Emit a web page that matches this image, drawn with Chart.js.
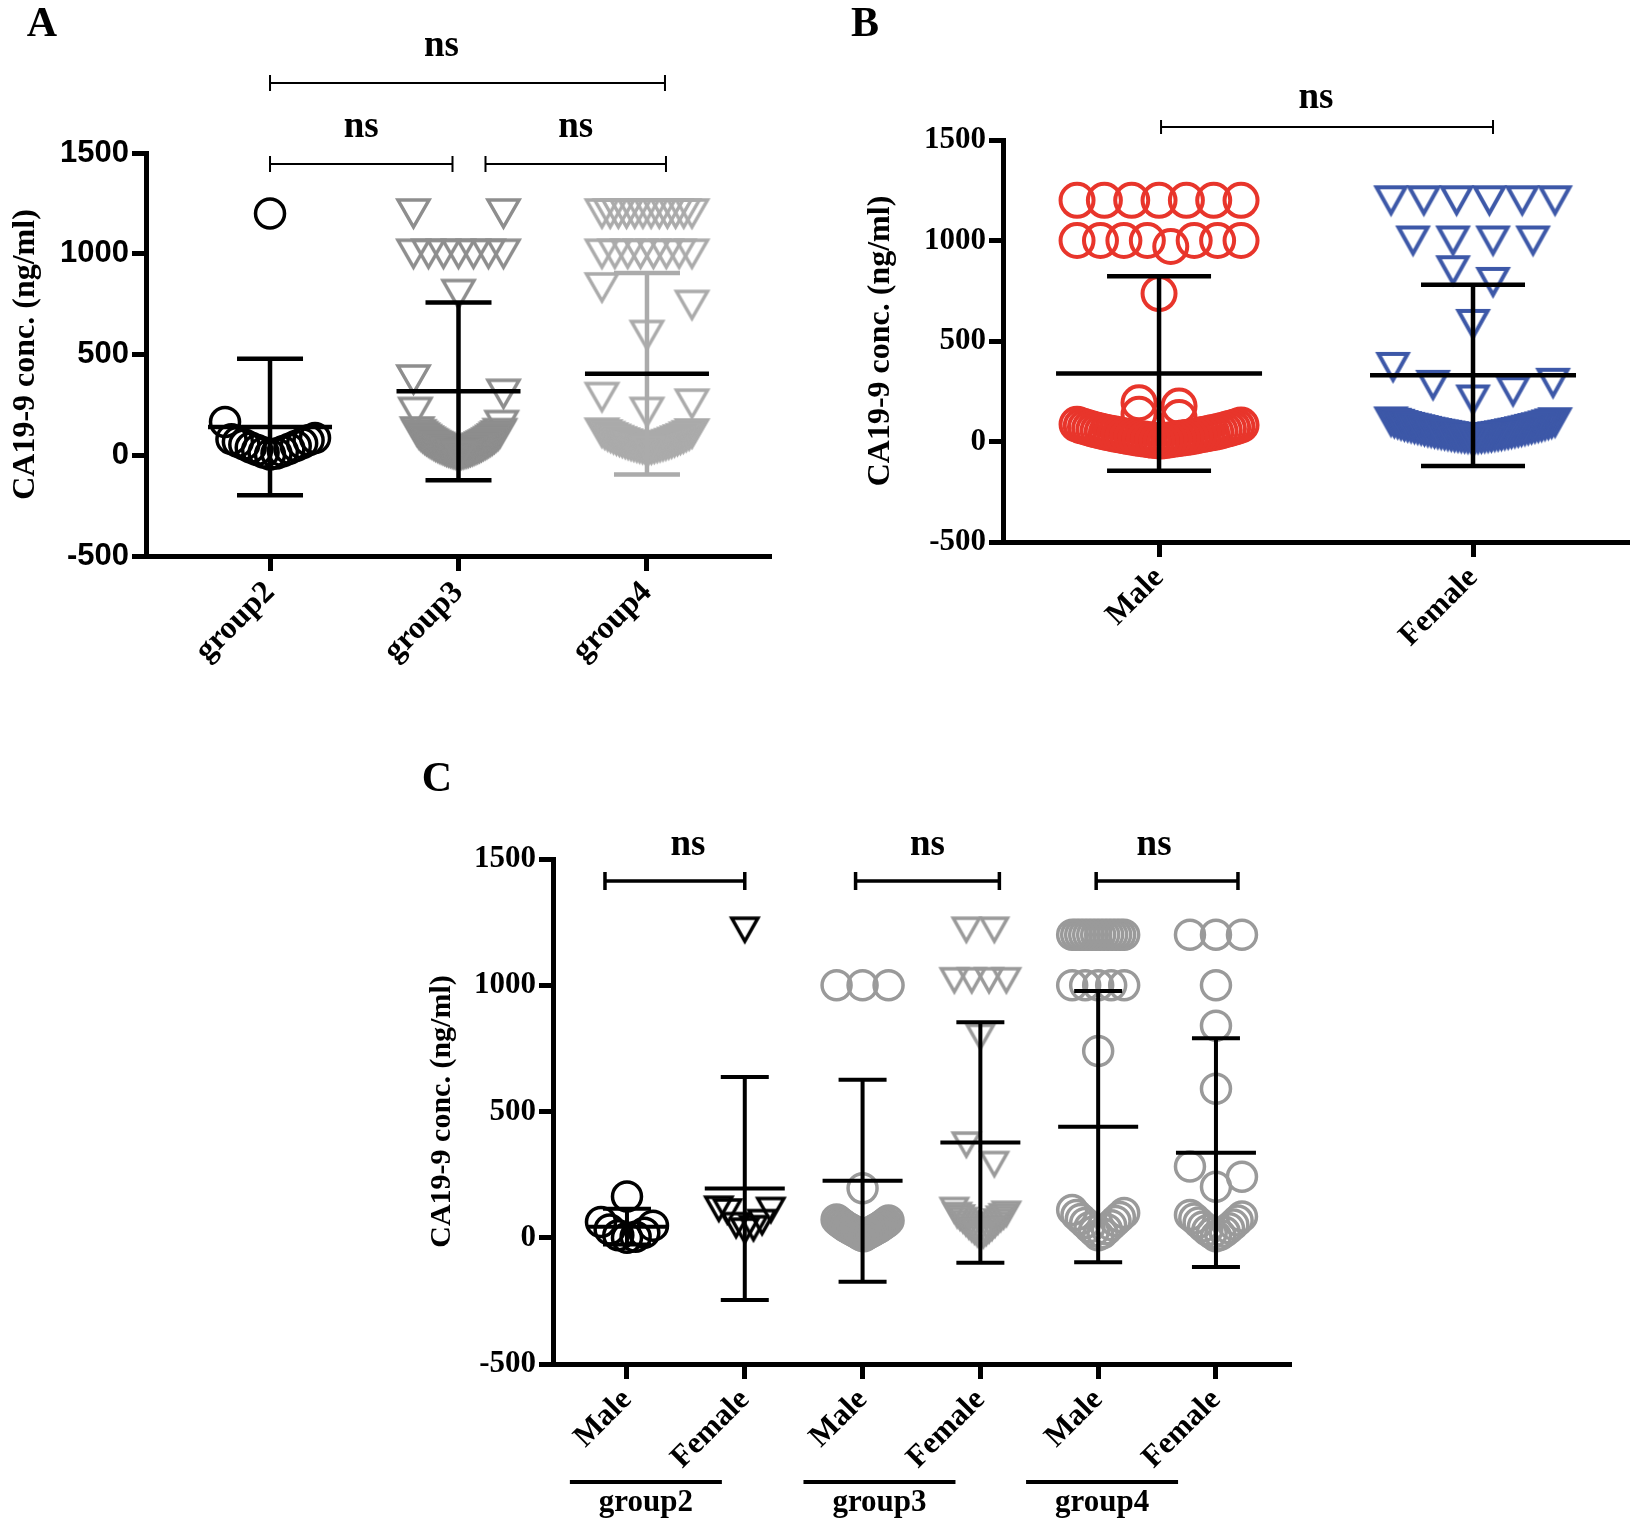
<!DOCTYPE html>
<html>
<head>
<meta charset="utf-8">
<title>CA19-9 conc.</title>
<script src="https://cdn.jsdelivr.net/npm/chart.js@4.4.1/dist/chart.umd.min.js"></script>
<style>
html,body{margin:0;padding:0;background:#fff}
body{position:relative;width:1630px;height:1522px;overflow:hidden}
canvas{position:absolute}
#cA{left:0;top:0}
#cB{left:800px;top:0}
#cC{left:380px;top:720px}
</style>
</head>
<body>
<canvas id="cA" width="800" height="700"></canvas>
<canvas id="cB" width="830" height="700"></canvas>
<canvas id="cC" width="950" height="802"></canvas>
<script>
// ======================= DATA =======================
const yTitle = 'CA19-9 conc. (ng/ml)';
const yTicks = [-500, 0, 500, 1000, 1500];
const sigLabel = 'ns';

// ---- Panel A ----
const catsA = ['group2', 'group3', 'group4'];
const aGroup2 = [1200, 165, 86, 80, 74, 67, 60, 53, 46, 39, 32, 26, 20, 14, 9, 4];
const aGroup3 = [1200, 1200, 1000, 1000, 1000, 1000, 1000, 1000, 1000, 800, 376, 305, 215, 150,
  118, 110, 104, 98, 95, 91, 87, 83, 80, 76, 73, 70, 67, 64, 61, 58, 56, 53, 50, 48, 45, 43,
  41, 38, 36, 34, 32, 30, 28, 26, 24, 22, 20, 19, 17, 15, 14, 12, 11, 10, 8, 7, 6, 5, 3, 2];
const aGroup4 = [1200, 1200, 1200, 1200, 1200, 1200, 1200, 1200, 1200, 1200, 1200, 1200,
  1000, 1000, 1000, 1000, 1000, 1000, 1000, 1000, 833, 746, 597, 289, 256, 215,
  112, 108, 103, 99, 95, 92, 88, 84, 81, 78, 75, 72, 69, 66, 63, 60, 58, 55, 53, 50, 48,
  46, 44, 42, 40, 38, 36, 34, 32, 30, 28, 26];
const aMean = [140, 317, 404];
const aSD = [339, 441, 500];
const compA = [[0, 2], [0, 1], [1, 2]];

// ---- Panel B ----
const catsB = ['Male', 'Female'];
const bMale = [1200, 1200, 1200, 1200, 1200, 1200, 1200,
  1000, 1000, 1000, 1000, 1000, 1000, 1000, 970, 736, 193, 176, 135, 119,
  86, 82, 78, 75, 72, 69, 66, 63, 60, 57, 55, 52, 50, 47, 45, 43, 41, 39, 37, 35,
  33, 31, 29, 27, 25, 23, 22, 20, 18, 17, 15, 14, 12, 11, 9, 8, 6, 5, 4, 2];
const bFemale = [1200, 1200, 1200, 1200, 1200, 1200, 1000, 1000, 1000, 1000,
  852, 794, 585, 371, 292, 282, 250, 209,
  100, 96, 93, 90, 88, 85, 82, 80, 77, 75, 73, 71, 69, 67, 65, 63, 61, 59, 57, 55, 53,
  51, 49, 47, 46, 44, 42, 41, 39, 37, 36, 34, 33, 31, 30, 28, 27, 26, 24, 23, 22, 21,
  20, 19, 18, 17, 16, 15, 14, 13];
const bMean = [338, 329];
const bSD = [484, 451];
const compB = [[0, 1]];

// ---- Panel C ----
const catsC = ['Male', 'Female', 'Male', 'Female', 'Male', 'Female'];
const groupsC = ['group2', 'group3', 'group4'];
const cG2Male = [163, 62, 48, 33, 20, 10, 4, 0];
const cG2Female = [1220, 115, 110, 104, 62, 50, 38, 28];
const cG3Male = [1000, 1000, 1000, 196, 72, 68, 64, 60, 57, 54, 51, 48, 45, 42, 40, 37, 35,
  32, 30, 27, 25, 22, 20, 17, 15, 12, 9, 6];
const cG3Female = [1220, 1220, 1020, 1020, 1020, 1020, 796, 369, 292, 110, 95, 90, 85, 80, 75,
  70, 64, 58, 52, 46, 40, 35, 30, 25, 20, 15, 10, 5];
const cG4Male = [1200, 1200, 1200, 1200, 1200, 1200, 1200, 1200, 1200, 1200, 1200, 1200, 1200, 1200,
  1000, 1000, 1000, 1000, 1000, 740, 110, 98, 90, 82, 74, 66, 58, 50, 42, 34, 26, 18, 10];
const cG4Female = [1200, 1200, 1200, 1000, 840, 590, 282, 242, 202, 90, 84, 76, 68, 60, 52,
  45, 38, 30, 24, 18, 12, 6];
const cMean = [44, 195, 226, 377, 440, 337];
const cSD = [71, 442, 400, 476, 537, 453];
const compC = [[0, 1], [2, 3], [4, 5]];

// ======================= STYLE / LAYOUT =======================
const SERIF = '"Liberation Serif", "Times New Roman", serif';
const SANS = '"Liberation Sans", Arial, sans-serif';
const RED = '#e8352b', BLUE = '#3d58a8', BLACK = '#000000';
const GRAY_A3 = '#8e8e8e', GRAY_A4 = '#ababab', GRAY_C = '#9a9a9a';

// horizontal scatter of points sharing a value band (column scatter layout)
function spread(values, gap, halfW, sMax) {
  const order = values.map((v, i) => i).sort((a, b) => values[a] - values[b]);
  const rows = [];
  let cur = [];
  order.forEach(k => {
    if (cur.length && values[k] - values[cur[cur.length - 1]] > gap) { rows.push(cur); cur = []; }
    cur.push(k);
  });
  if (cur.length) rows.push(cur);
  const off = new Array(values.length).fill(0);
  rows.forEach(r => {
    const n = r.length;
    if (n < 2) return;
    const s = Math.min(sMax, 2 * halfW / (n - 1));
    const slots = [];
    for (let i = 0; i < n; i++) slots.push((i - (n - 1) / 2) * s);
    slots.sort((a, b) => Math.abs(a) - Math.abs(b) || b - a);
    r.forEach((k, j) => { off[k] = slots[j]; });
  });
  return off;
}

function triangleImage(w, h, color, lw) {
  const pad = Math.ceil(lw * 1.5) + 2;
  const c = document.createElement('canvas');
  c.width = Math.ceil(w + 2 * pad);
  c.height = Math.ceil(h + 2 * pad);
  const g = c.getContext('2d');
  const cx = c.width / 2, cy = c.height / 2;
  g.strokeStyle = color;
  g.lineWidth = lw;
  g.lineJoin = 'miter';
  g.beginPath();
  g.moveTo(cx - w / 2, cy - h / 2);
  g.lineTo(cx + w / 2, cy - h / 2);
  g.lineTo(cx, cy + h / 2);
  g.closePath();
  g.stroke();
  return c;
}

function annotationPlugin(P) {
  return {
    id: 'annot' + P.letter,
    afterDatasetsDraw(chart) {
      const ctx = chart.ctx, xs = chart.scales.x, ys = chart.scales.y;
      ctx.save();
      ctx.lineCap = 'butt';
      P.means.forEach((m, i) => {
        const cx = xs.getPixelForValue(i);
        const top = ys.getPixelForValue(m + P.sds[i]);
        const bot = ys.getPixelForValue(m - P.sds[i]);
        const mid = ys.getPixelForValue(m);
        ctx.strokeStyle = P.barColors ? P.barColors[i] : BLACK;
        ctx.lineWidth = P.barLW;
        ctx.beginPath();
        ctx.moveTo(cx, top); ctx.lineTo(cx, bot);
        ctx.moveTo(cx - P.capHalf, top); ctx.lineTo(cx + P.capHalf, top);
        ctx.moveTo(cx - P.capHalf, bot); ctx.lineTo(cx + P.capHalf, bot);
        ctx.stroke();
        ctx.strokeStyle = BLACK;
        ctx.beginPath();
        ctx.moveTo(cx - P.meanHalf, mid); ctx.lineTo(cx + P.meanHalf, mid);
        ctx.stroke();
      });
      ctx.restore();
    },
    afterDraw(chart) {
      const ctx = chart.ctx, xs = chart.scales.x, ys = chart.scales.y;
      ctx.save();
      ctx.fillStyle = BLACK;
      ctx.strokeStyle = BLACK;
      // significance brackets
      P.comps.forEach((c, k) => {
        const B = P.bracketLayout[k];
        const yb = ys.getPixelForValue(B.level);
        const x1 = xs.getPixelForValue(c[0]) + B.dl;
        const x2 = xs.getPixelForValue(c[1]) + B.dr;
        ctx.lineWidth = P.bracketLW;
        ctx.beginPath();
        ctx.moveTo(x1, yb); ctx.lineTo(x2, yb);
        ctx.moveTo(x1, yb - P.bracketEnd); ctx.lineTo(x1, yb + P.bracketEnd);
        ctx.moveTo(x2, yb - P.bracketEnd); ctx.lineTo(x2, yb + P.bracketEnd);
        ctx.stroke();
        ctx.font = 'bold ' + P.nsSize + 'px ' + SERIF;
        ctx.textAlign = 'center';
        ctx.textBaseline = 'middle';
        ctx.fillText(sigLabel, (x1 + x2) / 2 + (B.labelDx || 0), yb - P.nsGap);
      });
      // panel letter
      ctx.font = 'bold 42px ' + SERIF;
      ctx.textAlign = 'center';
      ctx.textBaseline = 'middle';
      ctx.fillText(P.letter, P.letterPos[0], P.letterPos[1]);
      // group labels under paired categories
      if (P.groups) {
        P.groups.forEach((gname, g) => {
          const mid = (xs.getPixelForValue(2 * g) + xs.getPixelForValue(2 * g + 1)) / 2 + P.groupDx[g];
          ctx.lineWidth = 4;
          ctx.beginPath();
          ctx.moveTo(mid - P.groupHalf, P.groupLineY);
          ctx.lineTo(mid + P.groupHalf, P.groupLineY);
          ctx.stroke();
          ctx.font = 'bold 31px ' + SERIF;
          ctx.textAlign = 'center';
          ctx.textBaseline = 'middle';
          ctx.fillText(gname, mid, P.groupTextY);
        });
      }
      ctx.restore();
    }
  };
}

function makePanel(canvasId, P) {
  const pxPerUnit = (P.area.right - P.area.left) / (P.xMax - P.xMin);
  const datasets = P.series.map(s => {
    const off = spread(s.values, s.gap || P.gap, P.halfW, P.sMax);
    const tri = s.shape === 'triangle';
    return {
      data: s.values.map((v, k) => ({ x: s.cat + off[k] / pxPerUnit, y: v })),
      pointStyle: tri ? triangleImage(P.triW, P.triH, s.color, P.markLW) : 'circle',
      pointRadius: tri ? 10 : P.circleR,
      pointHoverRadius: tri ? 10 : P.circleR,
      pointBorderWidth: P.markLW,
      pointHoverBorderWidth: P.markLW,
      pointBorderColor: s.color,
      pointBackgroundColor: 'rgba(0,0,0,0)',
      showLine: false
    };
  });
  const tickGrid = (len) => ({
    drawOnChartArea: false, drawTicks: true, tickLength: len,
    tickWidth: P.axisLW, tickColor: BLACK
  });
  return new Chart(document.getElementById(canvasId), {
    type: 'scatter',
    data: { datasets },
    options: {
      responsive: false,
      animation: false,
      devicePixelRatio: 1,
      events: [],
      layout: {
        autoPadding: false,
        padding: { left: 0, top: P.area.top, right: P.canvasW - P.area.right, bottom: P.padBottom }
      },
      plugins: { legend: { display: false }, tooltip: { enabled: false } },
      scales: {
        x: {
          type: 'linear', min: P.xMin, max: P.xMax,
          afterBuildTicks: sc => { sc.ticks = P.cats.map((c, i) => ({ value: i })); },
          afterFit: sc => { sc.height = P.canvasH - P.area.bottom - P.padBottom; },
          ticks: {
            autoSkip: false, minRotation: 45, maxRotation: 45, padding: P.xTickPad,
            color: BLACK, font: { family: SERIF, size: P.xFont, weight: 'bold' },
            callback: v => P.cats[Math.round(v)]
          },
          grid: tickGrid(15),
          border: { display: true, color: BLACK, width: P.axisLW }
        },
        y: {
          type: 'linear', min: -500, max: 1500,
          afterBuildTicks: sc => { sc.ticks = yTicks.map(v => ({ value: v })); },
          afterFit: sc => { sc.width = P.area.left; },
          ticks: {
            padding: 3, color: BLACK,
            font: { family: P.yFontFamily, size: P.yFont, weight: 'bold' },
            callback: v => String(v)
          },
          grid: tickGrid(14),
          border: { display: true, color: BLACK, width: P.axisLW },
          title: {
            display: true, text: yTitle, color: BLACK,
            font: { family: SERIF, size: P.titleSize, weight: 'bold', lineHeight: 1.2 },
            padding: { top: P.titlePad, bottom: 0 }
          }
        }
      }
    },
    plugins: [annotationPlugin(P)]
  });
}

// ---- Panel A ----
makePanel('cA', {
  letter: 'A', letterPos: [42, 25],
  canvasW: 800, canvasH: 700, padBottom: 4,
  area: { left: 146, top: 153, right: 771, bottom: 556 },
  xMin: -0.658, xMax: 2.658,
  cats: catsA,
  series: [
    { cat: 0, values: aGroup2, shape: 'circle', color: BLACK },
    { cat: 1, values: aGroup3, shape: 'triangle', color: GRAY_A3 },
    { cat: 2, values: aGroup4, shape: 'triangle', color: GRAY_A4 }
  ],
  gap: 100, halfW: 45, sMax: 100,
  circleR: 14.5, triW: 31, triH: 27, markLW: 3.5,
  axisLW: 5, xFont: 32, xTickPad: 3, yFont: 31, yFontFamily: SANS,
  titleSize: 32, titlePad: 7,
  means: aMean, sds: aSD, barColors: [BLACK, BLACK, GRAY_A4],
  barLW: 4.5, capHalf: 33, meanHalf: 62,
  comps: compA,
  bracketLayout: [
    { level: 1847, dl: 0, dr: 18, labelDx: -26 },
    { level: 1445, dl: 0, dr: -6 },
    { level: 1445, dl: 27, dr: 19 }
  ],
  bracketLW: 2, bracketEnd: 8, nsSize: 37, nsGap: 37
});

// ---- Panel B ----
makePanel('cB', {
  letter: 'B', letterPos: [65, 25],
  canvasW: 830, canvasH: 700, padBottom: 4,
  area: { left: 203, top: 140, right: 830, bottom: 542 },
  xMin: -0.497, xMax: 1.5,
  cats: catsB,
  series: [
    { cat: 0, values: bMale, shape: 'circle', color: RED, gap: 30 },
    { cat: 1, values: bFemale, shape: 'triangle', color: BLUE }
  ],
  gap: 100, halfW: 82, sMax: 40,
  circleR: 16.5, triW: 29, triH: 26, markLW: 4,
  axisLW: 5, xFont: 31, xTickPad: 3, yFont: 31, yFontFamily: SERIF,
  titleSize: 32, titlePad: 62,
  means: bMean, sds: bSD,
  barLW: 4.5, capHalf: 52, meanHalf: 103,
  comps: compB,
  bracketLayout: [{ level: 1565, dl: 2, dr: 20, labelDx: -11 }],
  bracketLW: 2, bracketEnd: 7, nsSize: 37, nsGap: 28
});

// ---- Panel C ----
makePanel('cC', {
  letter: 'C', letterPos: [57, 60],
  canvasW: 950, canvasH: 802, padBottom: 4,
  area: { left: 173, top: 139, right: 911, bottom: 644 },
  xMin: -0.628, xMax: 5.637,
  cats: catsC,
  series: [
    { cat: 0, values: cG2Male, shape: 'circle', color: BLACK },
    { cat: 1, values: cG2Female, shape: 'triangle', color: BLACK },
    { cat: 2, values: cG3Male, shape: 'circle', color: GRAY_C },
    { cat: 3, values: cG3Female, shape: 'triangle', color: GRAY_C },
    { cat: 4, values: cG4Male, shape: 'circle', color: GRAY_C },
    { cat: 5, values: cG4Female, shape: 'circle', color: GRAY_C }
  ],
  gap: 80, halfW: 26, sMax: 28,
  circleR: 14.5, triW: 26, triH: 23, markLW: 3.5,
  axisLW: 5, xFont: 31, xTickPad: 3, yFont: 31, yFontFamily: SERIF,
  titleSize: 30, titlePad: 44,
  means: cMean, sds: cSD,
  barLW: 4, capHalf: 24, meanHalf: 40,
  comps: compC,
  bracketLayout: [
    { level: 1413, dl: -22, dr: 0, labelDx: 13 },
    { level: 1413, dl: -7, dr: 19 },
    { level: 1413, dl: -2, dr: 22, labelDx: -13 }
  ],
  bracketLW: 3.5, bracketEnd: 9, nsSize: 37, nsGap: 36,
  groups: groupsC, groupDx: [-40, -42, -55], groupHalf: 76, groupLineY: 762, groupTextY: 783
});
</script>
</body>
</html>
